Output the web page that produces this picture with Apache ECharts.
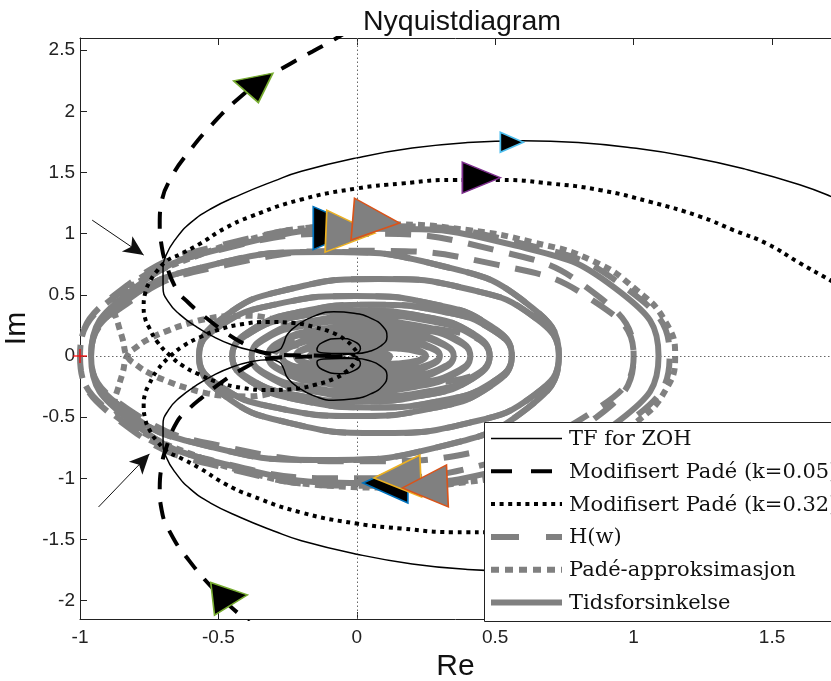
<!DOCTYPE html>
<html>
<head>
<meta charset="utf-8">
<script src="https://cdn.jsdelivr.net/npm/echarts@6/dist/echarts.min.js"></script>
<style>
  html, body { margin: 0; padding: 0; background: #fff; }
  #chart { width: 831px; height: 681px; }
</style>
</head>
<body>
<div id="chart"></div>
<script>
// ---- Nyquist curves, [Re, Im] pairs ----
// Each curve is given as its upper half (positive Im side, from the outer end toward the origin)
// and its lower half (same order); the drawn path is upper + reversed lower.

const tfZohUpper = [
  [1.80,1.22],[1.74,1.28],[1.60,1.40],[1.40,1.53],[1.20,1.63],[1.00,1.70],[0.80,1.745],[0.60,1.76],
  [0.40,1.745],[0.20,1.70],[0.00,1.62],[-0.20,1.51],[-0.30,1.43],[-0.42,1.32],[-0.53,1.20],[-0.60,1.09],
  [-0.65,0.97],[-0.69,0.82],[-0.70,0.70],[-0.70,0.56],[-0.68,0.44],[-0.64,0.34],[-0.58,0.24],[-0.52,0.16],
  [-0.45,0.09],[-0.38,0.045],[-0.32,0.03],[-0.28,0.05],[-0.265,0.10],[-0.25,0.18],[-0.21,0.26],[-0.15,0.33],
  [-0.084,0.362],[-0.01,0.35],[0.05,0.31],[0.095,0.24],[0.109,0.158],[0.085,0.08],[0.04,0.035],[0.0,0.02],
  [-0.06,0.02],[-0.12,0.025],[-0.144,0.05],[-0.125,0.11],[-0.06,0.144],[-0.01,0.12],[0.013,0.063],[0.0,0.025],
  [-0.04,0.012],[-0.06,0.0]
];
const tfZohLower = [
  [1.80,-1.22],[1.74,-1.28],[1.60,-1.40],[1.40,-1.53],[1.20,-1.63],[1.00,-1.70],[0.80,-1.745],[0.60,-1.76],
  [0.40,-1.745],[0.20,-1.70],[0.00,-1.62],[-0.20,-1.51],[-0.30,-1.43],[-0.42,-1.32],[-0.53,-1.20],[-0.60,-1.09],
  [-0.65,-0.97],[-0.69,-0.82],[-0.70,-0.70],[-0.70,-0.56],[-0.68,-0.44],[-0.64,-0.34],[-0.58,-0.24],[-0.52,-0.16],
  [-0.45,-0.09],[-0.38,-0.045],[-0.32,-0.03],[-0.28,-0.05],[-0.265,-0.10],[-0.25,-0.18],[-0.21,-0.26],[-0.15,-0.33],
  [-0.084,-0.362],[-0.01,-0.35],[0.05,-0.31],[0.095,-0.24],[0.109,-0.158],[0.085,-0.08],[0.04,-0.035],[0.0,-0.02],
  [-0.06,-0.02],[-0.12,-0.025],[-0.144,-0.05],[-0.125,-0.11],[-0.06,-0.144],[-0.01,-0.12],[0.013,-0.063],[0.0,-0.025],
  [-0.04,-0.012],[-0.06,0.0]
];

const pade005Upper = [
  [-0.03,2.66],[-0.08,2.59],[-0.16,2.49],[-0.24,2.39],[-0.33,2.27],[-0.42,2.12],[-0.52,1.90],[-0.61,1.66],
  [-0.67,1.46],[-0.705,1.26],[-0.712,1.08],[-0.705,0.90],[-0.69,0.76],[-0.65,0.54],[-0.61,0.44],[-0.565,0.35],
  [-0.47,0.185],[-0.40,0.09],[-0.35,0.035],[-0.28,0.012],[-0.20,0.005],[-0.12,0.003],[-0.05,0.0]
];
const pade005Lower = [
  [-0.03,-2.66],[-0.08,-2.59],[-0.16,-2.49],[-0.24,-2.39],[-0.33,-2.27],[-0.42,-2.12],[-0.52,-1.90],[-0.61,-1.66],
  [-0.67,-1.46],[-0.705,-1.26],[-0.712,-1.08],[-0.705,-0.90],[-0.69,-0.76],[-0.65,-0.54],[-0.61,-0.44],[-0.565,-0.35],
  [-0.47,-0.185],[-0.40,-0.09],[-0.35,-0.035],[-0.28,-0.012],[-0.20,-0.005],[-0.12,-0.003],[-0.05,0.0]
];

const pade032Upper = [
  [1.80,0.50],[1.71,0.62],[1.60,0.76],[1.48,0.92],[1.36,1.03],[1.24,1.14],[1.06,1.26],[0.88,1.356],
  [0.70,1.41],[0.52,1.44],[0.35,1.44],[0.16,1.41],[0.0,1.37],[-0.20,1.28],[-0.384,1.14],[-0.48,1.04],
  [-0.565,0.92],[-0.64,0.83],[-0.685,0.78],[-0.72,0.70],[-0.745,0.62],[-0.765,0.51],[-0.77,0.40],[-0.765,0.31],
  [-0.752,0.24],[-0.721,0.117],[-0.673,0.0],[-0.625,-0.085],[-0.57,-0.15],[-0.50,-0.215],[-0.41,-0.262],[-0.32,-0.278],
  [-0.23,-0.27],[-0.15,-0.235],[-0.085,-0.188],[-0.04,-0.13],[-0.013,-0.07],[0.0,-0.02],[-0.02,0.0]
];
const pade032Lower = [
  [1.80,-0.50],[1.71,-0.62],[1.60,-0.76],[1.48,-0.92],[1.36,-1.03],[1.24,-1.14],[1.06,-1.26],[0.88,-1.356],
  [0.70,-1.41],[0.52,-1.44],[0.35,-1.44],[0.16,-1.41],[0.0,-1.37],[-0.20,-1.28],[-0.384,-1.14],[-0.48,-1.04],
  [-0.565,-0.92],[-0.64,-0.83],[-0.685,-0.78],[-0.72,-0.70],[-0.745,-0.62],[-0.765,-0.51],[-0.77,-0.40],[-0.765,-0.31],
  [-0.752,-0.24],[-0.721,-0.117],[-0.673,0.0],[-0.625,0.085],[-0.57,0.15],[-0.50,0.215],[-0.41,0.262],[-0.32,0.278],
  [-0.23,0.27],[-0.15,0.235],[-0.085,0.188],[-0.04,0.13],[-0.013,0.07],[0.0,0.02],[-0.02,0.0]
];

// Spiralling responses: positive-frequency branch and its mirror branch, both from w = 0 inward
const hwPos = [
  [1.13,0],[0.987,-0.53],[0.598,-0.918],[0.065,-1.06],[-0.468,-0.918],[-0.857,-0.53],[-1.0,0],
  [-0.866,0.5],[-0.5,0.866],[0,1.0],[0.5,0.866],[0.866,0.5],[1.0,0],
  [0.869,-0.43],[0.51,-0.745],[0.02,-0.86],[-0.47,-0.745],[-0.829,-0.43],[-0.96,0],
  [-0.847,0.425],[-0.538,0.736],[-0.115,0.85],[0.308,0.736],[0.617,0.425],[0.73,0],
  [0.643,-0.315],[0.405,-0.546],[0.08,-0.63],[-0.245,-0.546],[-0.483,-0.315],[-0.57,0],
  [-0.494,0.245],[-0.288,0.424],[-0.005,0.49],[0.278,0.424],[0.484,0.245],[0.56,0],
  [0.492,-0.21],[0.308,-0.364],[0.055,-0.42],[-0.198,-0.364],[-0.382,-0.21],[-0.45,0],
  [-0.388,0.185],[-0.218,0.32],[0.015,0.37],[0.248,0.32],[0.418,0.185],[0.48,0],
  [0.35,-0.2],[0.05,-0.25],[-0.25,-0.12],[-0.3,0],[-0.1,0.1],[0.1,0.05],[0.12,0]
];
const hwNeg = [
  [1.13,0],[0.987,0.53],[0.598,0.918],[0.065,1.06],[-0.468,0.918],[-0.857,0.53],[-1.0,0],
  [-0.866,-0.5],[-0.5,-0.866],[0,-1.0],[0.5,-0.866],[0.866,-0.5],[1.0,0],
  [0.869,0.43],[0.51,0.745],[0.02,0.86],[-0.47,0.745],[-0.829,0.43],[-0.96,0],
  [-0.847,-0.425],[-0.538,-0.736],[-0.115,-0.85],[0.308,-0.736],[0.617,-0.425],[0.73,0],
  [0.643,0.315],[0.405,0.546],[0.08,0.63],[-0.245,0.546],[-0.483,0.315],[-0.57,0],
  [-0.494,-0.245],[-0.288,-0.424],[-0.005,-0.49],[0.278,-0.424],[0.484,-0.245],[0.56,0],
  [0.492,0.21],[0.308,0.364],[0.055,0.42],[-0.198,0.364],[-0.382,0.21],[-0.45,0],
  [-0.388,-0.185],[-0.218,-0.32],[0.015,-0.37],[0.248,-0.32],[0.418,-0.185],[0.48,0],
  [0.35,0.2],[0.05,0.25],[-0.25,0.12],[-0.3,0],[-0.1,-0.1],[0.1,-0.05],[0.12,0]
];

const padePos = [
  [1.15,0],[1.115,-0.28],[1.012,-0.537],[0.85,-0.78],[0.635,-0.93],[0.40,-1.03],[0.12,-1.075],[-0.16,-1.05],
  [-0.395,-0.95],[-0.60,-0.80],[-0.76,-0.64],[-0.85,-0.50],[-0.875,-0.38],[-0.862,-0.26],[-0.845,-0.13],[-0.83,0],
  [-0.795,0.075],[-0.75,0.14],[-0.68,0.21],[-0.61,0.265],[-0.54,0.305],[-0.47,0.325],[-0.40,0.33],[-0.34,0.32],
  [-0.29,0.29],[-0.22,0.25],[-0.15,0.19],[-0.09,0.12],[-0.04,0.05],[0,0]
];
const padeNeg = [
  [1.15,0],[1.115,0.28],[1.012,0.537],[0.85,0.78],[0.635,0.93],[0.40,1.03],[0.12,1.075],[-0.16,1.05],
  [-0.395,0.95],[-0.60,0.80],[-0.76,0.64],[-0.85,0.50],[-0.875,0.38],[-0.862,0.26],[-0.845,0.13],[-0.83,0],
  [-0.795,-0.075],[-0.75,-0.14],[-0.68,-0.21],[-0.61,-0.265],[-0.54,-0.305],[-0.47,-0.325],[-0.40,-0.33],[-0.34,-0.32],
  [-0.29,-0.29],[-0.22,-0.25],[-0.15,-0.19],[-0.09,-0.12],[-0.04,-0.05],[0,0]
];

const delayPos = [
  [1.09,0],[0.953,-0.52],[0.578,-0.90],[0.065,-1.04],[-0.448,-0.90],[-0.823,-0.52],[-0.96,0],
  [-0.847,0.425],[-0.538,0.736],[-0.115,0.85],[0.308,0.736],[0.617,0.425],[0.73,0],
  [0.643,-0.315],[0.405,-0.546],[0.08,-0.63],[-0.245,-0.546],[-0.483,-0.315],[-0.57,0],
  [-0.494,0.245],[-0.288,0.424],[-0.005,0.49],[0.278,0.424],[0.484,0.245],[0.56,0],
  [0.492,-0.21],[0.308,-0.364],[0.055,-0.42],[-0.198,-0.364],[-0.382,-0.21],[-0.45,0],
  [-0.388,0.185],[-0.218,0.32],[0.015,0.37],[0.248,0.32],[0.418,0.185],[0.48,0],
  [0.422,-0.165],[0.265,-0.286],[0.05,-0.33],[-0.165,-0.286],[-0.322,-0.165],[-0.38,0],
  [-0.327,0.145],[-0.183,0.251],[0.015,0.29],[0.213,0.251],[0.357,0.145],[0.41,0],
  [0.361,-0.125],[0.228,-0.217],[0.045,-0.25],[-0.138,-0.217],[-0.271,-0.125],[-0.32,0],
  [-0.275,0.11],[-0.153,0.191],[0.015,0.22],[0.183,0.191],[0.305,0.11],[0.35,0],
  [0.308,-0.095],[0.195,-0.165],[0.04,-0.19],[-0.115,-0.165],[-0.228,-0.095],[-0.27,0],
  [-0.232,0.08],[-0.128,0.139],[0.015,0.16],[0.158,0.139],[0.262,0.08],[0.30,0],
  [0.265,-0.065],[0.17,-0.113],[0.04,-0.13],[-0.09,-0.113],[-0.185,-0.065],[-0.22,0],
  [-0.189,0.05],[-0.103,0.087],[0.015,0.10],[0.133,0.087],[0.218,0.05],[0.25,0],
  [0.222,-0.035],[0.145,-0.061],[0.04,-0.07],[-0.065,-0.061],[-0.142,-0.035],[-0.17,0],
  [-0.12,0.03],[0,0.04],[0.1,0.02],[0.12,0],[0.05,-0.02],[0,0]
];
const delayNeg = [
  [1.09,0],[0.953,0.52],[0.578,0.90],[0.065,1.04],[-0.448,0.90],[-0.823,0.52],[-0.96,0],
  [-0.847,-0.425],[-0.538,-0.736],[-0.115,-0.85],[0.308,-0.736],[0.617,-0.425],[0.73,0],
  [0.643,0.315],[0.405,0.546],[0.08,0.63],[-0.245,0.546],[-0.483,0.315],[-0.57,0],
  [-0.494,-0.245],[-0.288,-0.424],[-0.005,-0.49],[0.278,-0.424],[0.484,-0.245],[0.56,0],
  [0.492,0.21],[0.308,0.364],[0.055,0.42],[-0.198,0.364],[-0.382,0.21],[-0.45,0],
  [-0.388,-0.185],[-0.218,-0.32],[0.015,-0.37],[0.248,-0.32],[0.418,-0.185],[0.48,0],
  [0.422,0.165],[0.265,0.286],[0.05,0.33],[-0.165,0.286],[-0.322,0.165],[-0.38,0],
  [-0.327,-0.145],[-0.183,-0.251],[0.015,-0.29],[0.213,-0.251],[0.357,-0.145],[0.41,0],
  [0.361,0.125],[0.228,0.217],[0.045,0.25],[-0.138,0.217],[-0.271,0.125],[-0.32,0],
  [-0.275,-0.11],[-0.153,-0.191],[0.015,-0.22],[0.183,-0.191],[0.305,-0.11],[0.35,0],
  [0.308,0.095],[0.195,0.165],[0.04,0.19],[-0.115,0.165],[-0.228,0.095],[-0.27,0],
  [-0.232,-0.08],[-0.128,-0.139],[0.015,-0.16],[0.158,-0.139],[0.262,-0.08],[0.30,0],
  [0.265,0.065],[0.17,0.113],[0.04,0.13],[-0.09,0.113],[-0.185,0.065],[-0.22,0],
  [-0.189,-0.05],[-0.103,-0.087],[0.015,-0.10],[0.133,-0.087],[0.218,-0.05],[0.25,0],
  [0.222,0.035],[0.145,0.061],[0.04,0.07],[-0.065,0.061],[-0.142,0.035],[-0.17,0],
  [-0.12,-0.03],[0,-0.04],[0.1,-0.02],[0.12,0],[0.05,0.02],[0,0]
];

// Direction arrowheads placed on the curves
const arrowTfZoh   = [[0.56, 1.748]];
const arrowPade032 = [[0.45, 1.458]];
const arrowPade005 = [[-0.365, 2.177], [-0.458, -1.969]];
const arrowBlue    = [[-0.067, 1.046], [0.103, -1.038]];
const arrowYellow  = [[-0.023, 1.013], [0.146, -0.989]];
const arrowOrange  = [[0.07, 1.103], [0.246, -1.07]];

// Pointer annotations near the crossing points (tail, head)
const pointerUpper = [[-0.956, 1.111], [-0.77, 0.825]];
const pointerLower = [[-0.933, -1.234], [-0.749, -0.80]];

// Critical point
const criticalPoint = [[-1, 0]];

const legendNames = ['TF for ZOH', 'Modifisert Padé (k=0.05)', 'Modifisert Padé (k=0.32)',
                     'H(w)', 'Padé-approksimasjon', 'Tidsforsinkelse'];

// ---- helpers ----
const fullPath = (upper, lower) => upper.concat(lower.slice().reverse());
const GRAY = '#808080';
const AXIS = '#222';
const SANS = '"Liberation Sans", Arial, sans-serif';

function curve(name, data, color, width, type, z) {
  return {
    name, type: 'line', data, smooth: 0.5, showSymbol: false, symbol: 'none',
    lineStyle: { color, width, type, cap: 'butt' }, z, silent: true, animation: false
  };
}

function arrows(name, pts, fill, edge, sizes, rotations, z) {
  return {
    name, type: 'scatter', symbol: 'triangle', z, silent: true, animation: false, clip: false,
    itemStyle: { color: fill, borderColor: edge, borderWidth: 1.6, opacity: 1 },
    data: pts.map((p, i) => ({ value: p, symbolSize: sizes[i], symbolRotate: rotations[i] }))
  };
}

const chart = echarts.init(document.getElementById('chart'), null, { renderer: 'canvas' });

// Legend drawn as a framed box over the lower-right of the axes
const legendX = 484.5, legendY = 422.5, rowY = [438.5, 471.3, 504.1, 536.9, 569.7, 602.5];
const sampleStyles = [
  { stroke: '#000', lineWidth: 1.5 },
  { stroke: '#000', lineWidth: 4, lineDash: [21, 19] },
  { stroke: '#000', lineWidth: 4, lineDash: [4, 4.6] },
  { stroke: GRAY, lineWidth: 6, lineDash: [28, 27] },
  { stroke: GRAY, lineWidth: 6, lineDash: [8, 6] },
  { stroke: GRAY, lineWidth: 6 }
];
const legendElements = [{
  type: 'rect', z: 100, shape: { x: legendX, y: legendY, width: 380, height: 199 },
  style: { fill: '#fff', stroke: AXIS, lineWidth: 1 }
}];
legendNames.forEach((n, i) => {
  legendElements.push({
    type: 'line', z: 101, shape: { x1: 491, y1: rowY[i], x2: 562, y2: rowY[i] },
    style: Object.assign({ lineCap: 'butt' }, sampleStyles[i])
  });
  legendElements.push({
    type: 'text', z: 101, x: 569, y: rowY[i] + 1,
    style: { text: n, font: '21px "DejaVu Serif", serif', fill: '#111', verticalAlign: 'middle' }
  });
});

const option = {
  animation: false,
  backgroundColor: '#fff',
  title: {
    text: 'Nyquistdiagram', left: 457, top: 3, textAlign: 'center',
    textStyle: { fontSize: 28.5, fontWeight: 'normal', fontFamily: SANS, color: '#111' }
  },
  grid: { left: 80, right: 0, top: 38, bottom: 62, containLabel: false, outerBoundsMode: 'none' },
  xAxis: [{
    type: 'value', min: -1, max: 1.713, interval: 0.5, position: 'bottom',
    axisLine: { show: true, onZero: false, lineStyle: { color: AXIS, width: 1 } },
    axisTick: { show: true, inside: true, length: 7, lineStyle: { color: AXIS } },
    axisLabel: { color: AXIS, fontSize: 19, fontFamily: SANS, margin: 9, showMaxLabel: false },
    splitLine: { show: false },
    name: 'Re', nameLocation: 'middle', nameGap: 33,
    nameTextStyle: { fontSize: 30, fontFamily: SANS, color: '#111' }
  }, {
    type: 'value', min: -1, max: 1.713, interval: 0.5, position: 'top',
    axisLine: { show: true, onZero: false, lineStyle: { color: AXIS, width: 1 } },
    axisTick: { show: true, inside: true, length: 7, lineStyle: { color: AXIS } },
    axisLabel: { show: false }, splitLine: { show: false }
  }],
  yAxis: [{
    type: 'value', min: -2.15, max: 2.6, splitNumber: 10,
    axisLine: { show: true, onZero: false, lineStyle: { color: AXIS, width: 1 } },
    axisTick: { show: true, inside: true, length: 7, lineStyle: { color: AXIS } },
    axisLabel: { color: AXIS, fontSize: 19, fontFamily: SANS, margin: 5, showMinLabel: false, showMaxLabel: false },
    splitLine: { show: false },
    name: 'Im', nameLocation: 'middle', nameGap: 37, nameRotate: 90,
    nameTextStyle: { fontSize: 30, fontFamily: SANS, color: '#111' }
  }],
  graphic: { elements: legendElements },
  series: [
    // dotted zero lines
    {
      type: 'line', data: [], silent: true, z: 1,
      markLine: {
        silent: true, symbol: 'none', label: { show: false }, animation: false,
        lineStyle: { color: '#666', width: 1, type: [1.5, 2.5] },
        data: [{ xAxis: 0 }, { yAxis: 0 }]
      }
    },
    curve(legendNames[3], fullPath(hwNeg.slice().reverse(), hwPos.slice().reverse()), GRAY, 6, [26, 16], 3),
    curve(legendNames[4], fullPath(padeNeg.slice().reverse(), padePos.slice().reverse()), GRAY, 6, [7, 5], 4),
    curve(legendNames[5], fullPath(delayNeg.slice().reverse(), delayPos.slice().reverse()), GRAY, 6, 'solid', 5),
    curve(legendNames[0], fullPath(tfZohUpper, tfZohLower), '#000', 1.5, 'solid', 6),
    curve(legendNames[1], fullPath(pade005Upper, pade005Lower), '#000', 4, [17, 13], 7),
    curve(legendNames[2], fullPath(pade032Upper, pade032Lower), '#000', 4, [4, 4.6], 8),
    arrows('dir-tf', arrowTfZoh, '#000', '#4DBEEE', [[20, 23]], [-90], 10),
    arrows('dir-k032', arrowPade032, '#000', '#7E2F8E', [[31, 38]], [-90], 10),
    arrows('dir-k005', arrowPade005, '#000', '#77AC30', [[40, 26], [33, 35]], [-168.7, -83.5], 10),
    arrows('dir-blue', arrowBlue, '#000', '#0072BD', [[43, 50], [40, 45]], [-90, 90], 10),
    arrows('dir-yellow', arrowYellow, GRAY, '#EDB120', [[42, 49], [42, 47]], [-92.3, 92.4], 11),
    arrows('dir-orange', arrowOrange, GRAY, '#D95319', [[42, 47], [42, 45]], [-94.8, 92.5], 12),
    // pointer annotations
    {
      type: 'line', data: [], silent: true, z: 12,
      markLine: {
        silent: true, symbol: ['none', 'arrow'], symbolSize: [14, 20], label: { show: false }, animation: false,
        lineStyle: { color: '#111', width: 1, type: 'solid' },
        data: [
          [{ coord: pointerUpper[0] }, { coord: pointerUpper[1] }],
          [{ coord: pointerLower[0] }, { coord: pointerLower[1] }]
        ]
      }
    },
    // critical point marker
    {
      type: 'scatter', data: criticalPoint, z: 13, silent: true, clip: false,
      symbol: 'path://M0,6.2H14V7.8H0Z M6.2,0H7.8V14H6.2Z', symbolSize: 14,
      itemStyle: { color: '#ff0000' }
    }
  ]
};

chart.setOption(option);
</script>
</body>
</html>
